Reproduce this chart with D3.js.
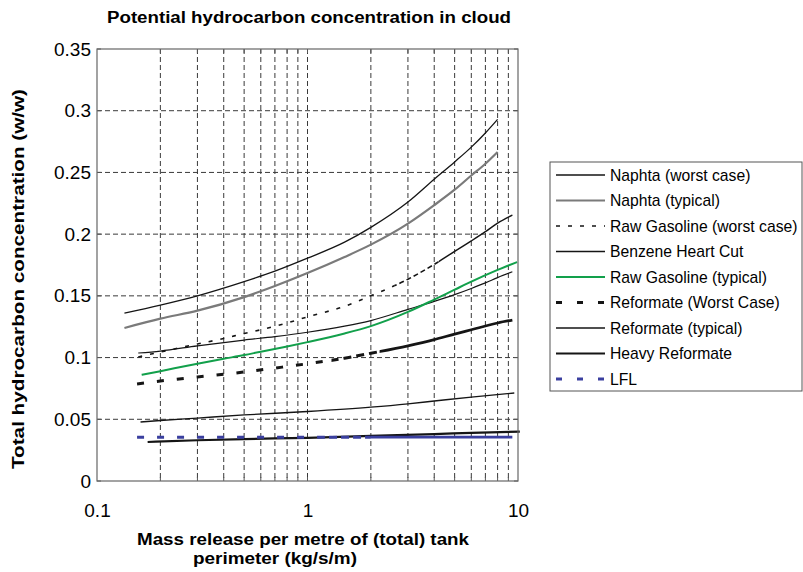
<!DOCTYPE html>
<html><head><meta charset="utf-8">
<script src="https://cdn.jsdelivr.net/npm/d3@7"></script>
<style>body{margin:0;background:#fff} svg{display:block} text{font-family:"Liberation Sans",Arial,Helvetica,sans-serif;fill:#000}</style>
</head><body><svg id="c" width="803" height="572"></svg>
<script>
// ---- data ----
const xTickValues = [0.1, 1, 10];
const xTickLabels = ["0.1", "1", "10"];
const yTickValues = [0, 0.05, 0.1, 0.15, 0.2, 0.25, 0.3, 0.35];
const yTickLabels = ["0", "0.05", "0.1", "0.15", "0.2", "0.25", "0.3", "0.35"];
const xGridValues = [0.2,0.3,0.4,0.5,0.6,0.7,0.8,0.9,1,2,3,4,5,6,7,8,9];

const seriesNames = ["Naphta (worst case)", "Naphta (typical)", "Raw Gasoline (worst case)", "Benzene Heart Cut",
  "Raw Gasoline (typical)", "Reformate (Worst Case)", "Reformate (typical)", "Heavy Reformate", "LFL"];

const naphtaWorstX = [0.135,0.2,0.3,0.5,0.7,1,1.5,2,3,4,5,6,7,8];
const naphtaWorstY = [0.136,0.1425,0.150,0.1615,0.170,0.1805,0.1935,0.2055,0.226,0.2445,0.2585,0.2705,0.282,0.293];
const naphtaTypX = [0.135,0.2,0.3,0.5,0.7,1,1.5,2,3,4,5,6,7,8];
const naphtaTypY = [0.124,0.1315,0.138,0.149,0.158,0.1685,0.1815,0.1915,0.2085,0.2235,0.236,0.2475,0.257,0.2665];
const rawGasWorstX = [0.157,0.2,0.3,0.4,0.5,0.6,0.8,1,1.5,2,3,4,5,6,7,8,9.4];
const rawGasWorstY = [0.1005,0.1045,0.111,0.1155,0.1195,0.1225,0.128,0.133,0.1415,0.150,0.1635,0.1755,0.186,0.1945,0.202,0.209,0.2155];
const benzeneX = [0.157,0.2,0.3,0.5,0.7,1,1.5,2,3,4,5,6,7,8,9.4];
const benzeneY = [0.1037,0.1053,0.1095,0.1142,0.117,0.1205,0.1255,0.130,0.139,0.1455,0.151,0.156,0.1605,0.1648,0.1695];
const rawGasTypX = [0.163,0.2,0.3,0.4,0.5,0.6,0.8,1,1.5,2,3,4,5,6,8,9.9];
const rawGasTypY = [0.086,0.089,0.095,0.099,0.102,0.1048,0.109,0.1125,0.1195,0.1255,0.137,0.147,0.155,0.1615,0.171,0.1774];
const reformWorstX = [0.155,0.2,0.3,0.5,0.7,1,1.5,2,3,4,5,6,8,9.4];
const reformWorstY = [0.0786,0.081,0.0843,0.0883,0.0915,0.095,0.0995,0.1035,0.1095,0.1145,0.119,0.1225,0.128,0.1304];
const reformTypX = [0.161,0.2,0.3,0.5,1,2,3,4,6,9.6];
const reformTypY = [0.0478,0.049,0.051,0.0535,0.0563,0.0598,0.0625,0.0648,0.068,0.0713];
const heavyReformX = [0.174,0.3,0.5,1,2,4,6,10.2];
const heavyReformY = [0.0316,0.033,0.034,0.035,0.0365,0.038,0.039,0.040];
const lflX = [0.155,0.3,1,3,9.4];
const lflY = [0.0355,0.0355,0.0355,0.0355,0.0355];

const seriesX = [naphtaWorstX, naphtaTypX, rawGasWorstX, benzeneX, rawGasTypX, reformWorstX, reformTypX, heavyReformX, lflX];
const seriesY = [naphtaWorstY, naphtaTypY, rawGasWorstY, benzeneY, rawGasTypY, reformWorstY, reformTypY, heavyReformY, lflY];

// ---- styles ----
// zones: [fromX, toX, dasharray|null]  (dense sampling in the source makes far parts render continuous)
const styles = [
  {stroke:"#151515", width:1.3},
  {stroke:"#7a7a7a", width:2.2},
  {stroke:"#151515", width:1.6, zones:[[0.1,2.6,"4,8"],[2.6,4.2,"5,3"],[4.2,12,null]]},
  {stroke:"#151515", width:1.2},
  {stroke:"#12a04b", width:2.0},
  {stroke:"#151515", width:3.0, zones:[[0.1,1.3,"7,13"],[1.3,2.2,"8,5"],[2.2,12,null]]},
  {stroke:"#151515", width:1.3},
  {stroke:"#151515", width:2.2},
  {stroke:"#3a3f9f", width:3.0, zones:[[0.1,1.2,"7,13"],[1.2,2.0,"8,4"],[2.0,12,null]]}
];
const legendDash = [null, null, "4,8", null, null, "6,15", null, null, "6,15"];

// ---- layout ----
const L = 97, R = 518, T = 49, B = 481;
const svg = d3.select("#c");
const x = d3.scaleLog().domain([0.1, 10]).range([L, R]);
const y = d3.scaleLinear().domain([0, 0.35]).range([B, T]);

// grid
const grid = svg.append("g");
grid.selectAll("line.vg").data(xGridValues).join("line")
  .attr("x1", d => x(d)).attr("x2", d => x(d)).attr("y1", T).attr("y2", B)
  .attr("stroke", "#3a3a3a").attr("stroke-width", 1).attr("stroke-dasharray", "5,3");
grid.selectAll("line.hg").data(yTickValues.filter(v => v > 0 && v < 0.35)).join("line")
  .attr("y1", d => y(d)).attr("y2", d => y(d)).attr("x1", L).attr("x2", R)
  .attr("stroke", "#3a3a3a").attr("stroke-width", 1).attr("stroke-dasharray", "5,3");

// axes (ticks inside)
const xb = d3.axisBottom(x).tickValues(xTickValues).tickFormat((d,i) => xTickLabels[i]).tickSize(0).tickPadding(23);
const gx = svg.append("g").attr("transform", `translate(0,${B})`).call(xb);
gx.select(".domain").remove();
gx.selectAll("text").attr("font-size", 19).attr("font-family", '"Liberation Sans",Arial,sans-serif').attr("fill", "#000");
const yl = d3.axisLeft(y).tickValues(yTickValues).tickFormat((d,i) => yTickLabels[i]).tickSize(0).tickPadding(6);
const gy = svg.append("g").attr("transform", `translate(${L},0)`).call(yl);
gy.select(".domain").remove();
gy.selectAll("text").attr("font-size", 19).attr("font-family", '"Liberation Sans",Arial,sans-serif').attr("fill", "#000");

const tickG = svg.append("g").attr("stroke", "#555").attr("stroke-width", 1);
xGridValues.forEach(v => {
  tickG.append("line").attr("x1", x(v)).attr("x2", x(v)).attr("y1", B).attr("y2", B - 4);
  tickG.append("line").attr("x1", x(v)).attr("x2", x(v)).attr("y1", T).attr("y2", T + 4);
});
yTickValues.forEach(v => {
  tickG.append("line").attr("x1", L).attr("x2", L + 4).attr("y1", y(v)).attr("y2", y(v));
  tickG.append("line").attr("x1", R).attr("x2", R - 4).attr("y1", y(v)).attr("y2", y(v));
});

// series
const defs = svg.append("defs");
const line = d3.line().x(d => x(d[0])).y(d => y(d[1])).curve(d3.curveMonotoneX);
seriesNames.forEach((name, i) => {
  const pts = seriesX[i].map((v, j) => [v, seriesY[i][j]]);
  const st = styles[i];
  if (!st.zones) {
    svg.append("path").datum(pts).attr("d", line).attr("fill", "none")
      .attr("stroke", st.stroke).attr("stroke-width", st.width);
    return;
  }
  st.zones.forEach((z, k) => {
    const id = `clip${i}_${k}`;
    const x0 = k === 0 ? 0 : x(z[0]);
    const x1 = k === st.zones.length - 1 ? 803 : x(z[1]);
    defs.append("clipPath").attr("id", id).append("rect")
      .attr("x", x0).attr("y", 0).attr("width", x1 - x0).attr("height", 572);
    const p = svg.append("path").datum(pts).attr("d", line).attr("fill", "none")
      .attr("stroke", st.stroke).attr("stroke-width", z[2] ? st.width : st.width * 0.9)
      .attr("clip-path", `url(#${id})`);
    if (z[2]) p.attr("stroke-dasharray", z[2]);
  });
});

// frame
svg.append("rect").attr("x", L).attr("y", T).attr("width", R - L).attr("height", B - T)
  .attr("fill", "none").attr("stroke", "#666").attr("stroke-width", 1.2);

// titles
svg.append("text").attr("x", 309).attr("y", 23).attr("text-anchor", "middle")
  .attr("font-weight", "bold").attr("font-size", 16).attr("textLength", 404).attr("lengthAdjust", "spacingAndGlyphs")
  .text("Potential hydrocarbon concentration in cloud");
svg.append("text").attr("transform", "translate(24,279) rotate(-90)").attr("text-anchor", "middle")
  .attr("font-weight", "bold").attr("font-size", 16).attr("textLength", 380).attr("lengthAdjust", "spacingAndGlyphs")
  .text("Total hydrocarbon concentration (w/w)");
svg.append("text").attr("x", 137).attr("y", 545)
  .attr("font-weight", "bold").attr("font-size", 16).attr("textLength", 332).attr("lengthAdjust", "spacingAndGlyphs")
  .text("Mass release per metre of (total) tank");
svg.append("text").attr("x", 193).attr("y", 564)
  .attr("font-weight", "bold").attr("font-size", 16).attr("textLength", 164).attr("lengthAdjust", "spacingAndGlyphs")
  .text("perimeter (kg/s/m)");

// legend
const lg = svg.append("g");
lg.append("rect").attr("x", 550).attr("y", 162).attr("width", 252).attr("height", 229)
  .attr("fill", "#fff").attr("stroke", "#555").attr("stroke-width", 1);
seriesNames.forEach((name, i) => {
  const cy = 175 + i * 25.5;
  const ln = lg.append("line").attr("x1", 556).attr("x2", 605).attr("y1", cy).attr("y2", cy)
    .attr("stroke", styles[i].stroke).attr("stroke-width", Math.max(1.5, styles[i].width));
  if (legendDash[i]) ln.attr("stroke-dasharray", legendDash[i]);
  lg.append("text").attr("x", 610).attr("y", cy + 5.5).attr("font-size", 15.7).text(name);
});
</script></body></html>
